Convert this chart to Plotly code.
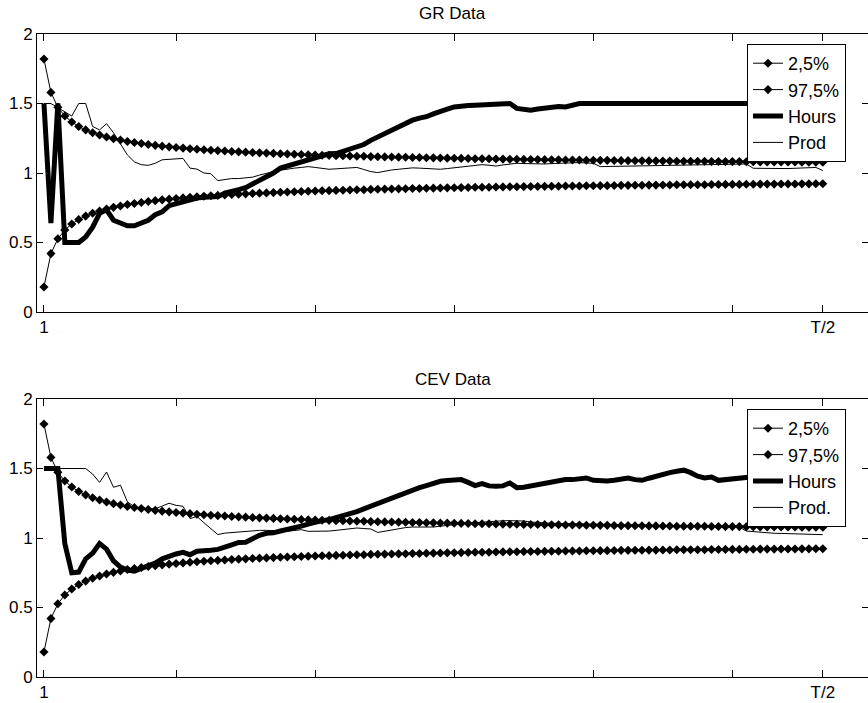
import plotly.graph_objects as go

# ---------------- data ----------------
T = list(range(1, 114))          # periods 1 .. T/2 (=113)
X_TICKS = [1, 20, 40, 60, 80, 100, 113]
X_TICK_TEXT = ["1", "", "", "", "", "", "T/2"]
Y_TICKS = [0, 0.5, 1, 1.5, 2]
Y_TICK_TEXT = ["0", "0.5", "1", "1.5", "2"]

BAND_LOW = [
    0.180, 0.420, 0.527, 0.590, 0.633, 0.665, 0.690, 0.710, 0.727, 0.741,
    0.753, 0.763, 0.773, 0.781, 0.788, 0.795, 0.801, 0.807, 0.812, 0.817,
    0.821, 0.825, 0.829, 0.833, 0.836, 0.839, 0.842, 0.845, 0.848, 0.850,
    0.853, 0.855, 0.857, 0.859, 0.861, 0.863, 0.865, 0.867, 0.869, 0.870,
    0.872, 0.873, 0.875, 0.876, 0.878, 0.879, 0.880, 0.882, 0.883, 0.884,
    0.885, 0.886, 0.887, 0.888, 0.889, 0.890, 0.891, 0.892, 0.893, 0.894,
    0.895, 0.896, 0.897, 0.898, 0.898, 0.899, 0.900, 0.901, 0.901, 0.902,
    0.903, 0.903, 0.904, 0.905, 0.905, 0.906, 0.907, 0.907, 0.908, 0.908,
    0.909, 0.909, 0.910, 0.911, 0.911, 0.912, 0.912, 0.913, 0.913, 0.914,
    0.914, 0.915, 0.915, 0.915, 0.916, 0.916, 0.917, 0.917, 0.918, 0.918,
    0.918, 0.919, 0.919, 0.920, 0.920, 0.920, 0.921, 0.921, 0.921, 0.922,
    0.922, 0.923, 0.923,
]
BAND_HIGH = [
    1.820, 1.580, 1.473, 1.410, 1.367, 1.335, 1.310, 1.290, 1.273, 1.259,
    1.247, 1.237, 1.227, 1.219, 1.212, 1.205, 1.199, 1.193, 1.188, 1.183,
    1.179, 1.175, 1.171, 1.167, 1.164, 1.161, 1.158, 1.155, 1.152, 1.150,
    1.147, 1.145, 1.143, 1.141, 1.139, 1.137, 1.135, 1.133, 1.131, 1.130,
    1.128, 1.127, 1.125, 1.124, 1.122, 1.121, 1.120, 1.118, 1.117, 1.116,
    1.115, 1.114, 1.113, 1.112, 1.111, 1.110, 1.109, 1.108, 1.107, 1.106,
    1.105, 1.104, 1.103, 1.102, 1.102, 1.101, 1.100, 1.099, 1.099, 1.098,
    1.097, 1.097, 1.096, 1.095, 1.095, 1.094, 1.093, 1.093, 1.092, 1.092,
    1.091, 1.091, 1.090, 1.089, 1.089, 1.088, 1.088, 1.087, 1.087, 1.086,
    1.086, 1.085, 1.085, 1.085, 1.084, 1.084, 1.083, 1.083, 1.082, 1.082,
    1.082, 1.081, 1.081, 1.080, 1.080, 1.080, 1.079, 1.079, 1.079, 1.078,
    1.078, 1.077, 1.077,
]

GR_HOURS = [
    1.50, 0.64, 1.50, 0.50, 0.50, 0.50, 0.54, 0.61, 0.71, 0.735,
    0.66, 0.635, 0.62, 0.62, 0.64, 0.66, 0.70, 0.72, 0.765, 0.78,
    0.795, 0.81, 0.82, 0.825, 0.83, 0.83, 0.855, 0.865, 0.88, 0.895,
    0.92, 0.95, 0.975, 1.00, 1.035, 1.05, 1.07, 1.08, 1.10, 1.115,
    1.125, 1.138, 1.14, 1.155, 1.17, 1.185, 1.205, 1.235, 1.26, 1.285,
    1.31, 1.335, 1.36, 1.38, 1.395, 1.405, 1.425, 1.445, 1.46, 1.475,
    1.483, 1.485, 1.488, 1.49, 1.49, 1.492, 1.495, 1.50, 1.465, 1.455,
    1.452, 1.46, 1.468, 1.47, 1.478, 1.475, 1.49, 1.50, 1.50, 1.50,
    1.50, 1.50, 1.50, 1.50, 1.50, 1.50, 1.50, 1.50, 1.50, 1.50,
    1.50, 1.50, 1.50, 1.50, 1.50, 1.50, 1.50, 1.50, 1.50, 1.50,
    1.50, 1.50, 1.50, 1.50, 1.50, 1.50, 1.50, 1.50, 1.50, 1.50,
    1.50, 1.50, 1.50,
]
GR_PROD = [
    1.50, 1.50, 1.47, 1.44, 1.41, 1.50, 1.50, 1.335, 1.31, 1.355,
    1.29, 1.21, 1.13, 1.08, 1.06, 1.055, 1.07, 1.095, 1.10, 1.105,
    1.105, 1.035, 1.028, 1.00, 0.995, 0.945, 0.955, 0.96, 0.96, 0.965,
    0.97, 0.985, 1.00, 1.01, 1.02, 1.03, 1.035, 1.04, 1.046, 1.04,
    1.035, 1.027, 1.03, 1.035, 1.04, 1.04, 1.025, 1.01, 1.003, 1.015,
    1.022, 1.027, 1.032, 1.037, 1.035, 1.032, 1.028, 1.027, 1.032, 1.038,
    1.046, 1.05, 1.055, 1.06, 1.056, 1.05, 1.058, 1.064, 1.07, 1.068,
    1.066, 1.065, 1.065, 1.068, 1.07, 1.072, 1.075, 1.075, 1.072, 1.07,
    1.046, 1.047, 1.048, 1.049, 1.05, 1.05, 1.05, 1.052, 1.055, 1.056,
    1.058, 1.06, 1.06, 1.061, 1.062, 1.063, 1.064, 1.065, 1.065, 1.065,
    1.065, 1.065, 1.034, 1.033, 1.032, 1.031, 1.031, 1.032, 1.034, 1.036,
    1.038, 1.04, 1.018,
]

CEV_HOURS = [
    1.50, 1.50, 1.50, 0.96, 0.75, 0.755, 0.85, 0.89, 0.96, 0.92,
    0.835, 0.79, 0.77, 0.762, 0.78, 0.795, 0.82, 0.85, 0.87, 0.885,
    0.897, 0.88, 0.905, 0.905, 0.912, 0.918, 0.93, 0.95, 0.968, 0.97,
    0.995, 1.02, 1.034, 1.037, 1.05, 1.06, 1.075, 1.085, 1.10, 1.115,
    1.125, 1.132, 1.145, 1.155, 1.17, 1.19, 1.21, 1.23, 1.25, 1.27,
    1.29, 1.31, 1.33, 1.348, 1.362, 1.377, 1.395, 1.408, 1.413, 1.417,
    1.42, 1.40, 1.377, 1.392, 1.375, 1.372, 1.375, 1.396, 1.362, 1.365,
    1.375, 1.388, 1.395, 1.405, 1.415, 1.42, 1.42, 1.425, 1.432, 1.415,
    1.408, 1.41, 1.415, 1.42, 1.432, 1.42, 1.415, 1.43, 1.445, 1.46,
    1.47, 1.48, 1.488, 1.47, 1.445, 1.432, 1.439, 1.415, 1.42, 1.425,
    1.43, 1.44, 1.44, 1.44, 1.44, 1.44, 1.44, 1.44, 1.44, 1.44,
    1.44, 1.44, 1.44,
]
CEV_PROD = [
    1.50, 1.50, 1.50, 1.50, 1.50, 1.50, 1.50, 1.46, 1.40, 1.475,
    1.365, 1.38, 1.26, 1.225, 1.215, 1.212, 1.21, 1.23, 1.25, 1.235,
    1.228, 1.14, 1.155, 1.11, 1.07, 1.025, 1.035, 1.04, 1.044, 1.048,
    1.052, 1.055, 1.055, 1.055, 1.05, 1.048, 1.055, 1.06, 1.048, 1.048,
    1.048, 1.05, 1.055, 1.062, 1.068, 1.072, 1.068, 1.065, 1.04, 1.05,
    1.06, 1.068, 1.075, 1.079, 1.079, 1.079, 1.079, 1.085, 1.092, 1.098,
    1.102, 1.106, 1.11, 1.115, 1.12, 1.122, 1.124, 1.125, 1.126, 1.122,
    1.115, 1.11, 1.108, 1.106, 1.105, 1.104, 1.103, 1.103, 1.102, 1.10,
    1.10, 1.098, 1.097, 1.096, 1.095, 1.094, 1.093, 1.092, 1.091, 1.09,
    1.089, 1.088, 1.088, 1.087, 1.087, 1.086, 1.085, 1.084, 1.084, 1.083,
    1.079, 1.05, 1.045, 1.04, 1.036, 1.034, 1.033, 1.032, 1.032, 1.031,
    1.03, 1.028, 1.024,
]

PANELS = [
    ("GR Data", GR_HOURS, GR_PROD, "Prod"),
    ("CEV Data", CEV_HOURS, CEV_PROD, "Prod."),
]

# ---------------- layout geometry ----------------
W, H = 868, 703
FONT = "Liberation Sans, Arial, Helvetica, sans-serif"
L_MARGIN = 37
PLOT_W = W - L_MARGIN
# vertical pixel extents of the two axes boxes (top, bottom)
BOXES = [(34, 312), (399, 677)]
TITLE_Y = [13.5, 379]
LEGEND_TOP = [44, 409]

fig = go.Figure()

for i, (title, hours, prod, prod_name) in enumerate(PANELS):
    n = "" if i == 0 else str(i + 1)
    xa, ya = "x" + n, "y" + n
    leg = "legend" + n
    common = dict(x=T, xaxis=xa, yaxis=ya, legend=leg)
    fig.add_trace(go.Scatter(
        y=BAND_LOW, name="2,5%", mode="lines+markers",
        line=dict(color="black", width=1),
        marker=dict(symbol="diamond", size=7, color="black", line=dict(width=0)),
        **common))
    fig.add_trace(go.Scatter(
        y=BAND_HIGH, name="97,5%", mode="lines+markers",
        line=dict(color="black", width=1),
        marker=dict(symbol="diamond", size=7, color="black", line=dict(width=0)),
        **common))
    fig.add_trace(go.Scatter(
        y=hours, name="Hours", mode="lines",
        line=dict(color="black", width=5), **common))
    fig.add_trace(go.Scatter(
        y=prod, name=prod_name, mode="lines",
        line=dict(color="black", width=1), **common))

    top, bot = BOXES[i]
    dom = [1 - bot / H, 1 - top / H]
    axis_common = dict(showline=True, linecolor="black", linewidth=1,
                       mirror="ticks", ticks="inside", showgrid=False,
                       zeroline=False, tickcolor="black",
                       tickfont=dict(family=FONT, size=17, color="black"))
    fig.update_layout({
        ("xaxis" + n): dict(domain=[0, 1], range=[0, 119.5], anchor=ya,
                            tickmode="array", tickvals=X_TICKS,
                            ticktext=X_TICK_TEXT, ticklen=7, **axis_common),
        ("yaxis" + n): dict(domain=dom, range=[0, 2], anchor=xa,
                            tickmode="array", tickvals=Y_TICKS,
                            ticktext=Y_TICK_TEXT, ticklen=6, **axis_common),
        leg: dict(x=(747 - L_MARGIN) / PLOT_W, y=1 - LEGEND_TOP[i] / H,
                  xanchor="left", yanchor="top", xref="paper", yref="paper",
                  bgcolor="white", bordercolor="black", borderwidth=1,
                  font=dict(family=FONT, size=18, color="black"),
                  itemwidth=30, tracegroupgap=0),
    })
    fig.add_annotation(text=title, xref="paper", yref="paper",
                       x=0.5, y=1 - TITLE_Y[i] / H, xanchor="center",
                       yanchor="middle", showarrow=False,
                       font=dict(family=FONT, size=17, color="black"))

fig.update_layout(
    width=W, height=H,
    margin=dict(l=L_MARGIN, r=0, t=0, b=0, autoexpand=False),
    paper_bgcolor="white", plot_bgcolor="white",
    showlegend=True,
    font=dict(family=FONT, color="black"),
)

fig.write_html(
    "out.html",
    config={"displayModeBar": False},
    post_script="document.body.style.margin='0';"
                "document.body.style.overflow='hidden';",
)
